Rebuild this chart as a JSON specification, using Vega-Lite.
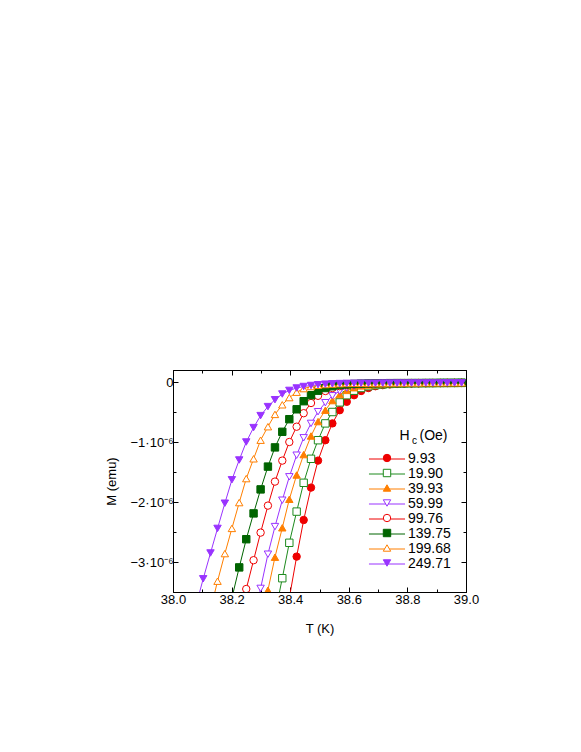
{
  "$schema": "https://vega.github.io/schema/vega-lite/v6.json",
  "width": 293,
  "height": 222,
  "autosize": {"type": "none"},
  "padding": {"left": 173, "top": 370, "right": 115, "bottom": 160},
  "background": "white",
  "config": {
    "font": "Liberation Sans",
    "view": {"stroke": "black", "strokeWidth": 1},
    "axis": {
      "grid": false,
      "domainColor": "black",
      "tickColor": "black",
      "labelColor": "black",
      "titleColor": "black",
      "labelFontSize": 13,
      "titleFontSize": 13,
      "titleFontWeight": "normal",
      "labelFlush": false,
      "labelOverlap": false,
      "tickWidth": 1,
      "domainWidth": 1
    },
    "legend": {
      "labelFont": "Liberation Sans",
      "titleFont": "Liberation Sans",
      "labelColor": "black",
      "titleColor": "black",
      "titleFontWeight": "normal"
    }
  },
  "data": {
    "values": [
      {"Hc":"9.93","T":38.397,"M":-3.60e-6},{"Hc":"9.93","T":38.422,"M":-2.91e-6},{"Hc":"9.93","T":38.446,"M":-2.30e-6},{"Hc":"9.93","T":38.471,"M":-1.76e-6},{"Hc":"9.93","T":38.495,"M":-1.31e-6},{"Hc":"9.93","T":38.520,"M":-0.97e-6},{"Hc":"9.93","T":38.544,"M":-0.69e-6},{"Hc":"9.93","T":38.569,"M":-0.47e-6},{"Hc":"9.93","T":38.593,"M":-0.33e-6},{"Hc":"9.93","T":38.618,"M":-0.22e-6},{"Hc":"9.93","T":38.642,"M":-0.15e-6},{"Hc":"9.93","T":38.667,"M":-0.10e-6},{"Hc":"9.93","T":38.691,"M":-0.07e-6},{"Hc":"9.93","T":38.716,"M":-0.052e-6},{"Hc":"9.93","T":38.740,"M":-0.040e-6},{"Hc":"9.93","T":38.765,"M":-0.032e-6},{"Hc":"9.93","T":38.789,"M":-0.027e-6},{"Hc":"9.93","T":38.814,"M":-0.024e-6},{"Hc":"9.93","T":38.838,"M":-0.022e-6},{"Hc":"9.93","T":38.863,"M":-0.020e-6},{"Hc":"9.93","T":38.887,"M":-0.019e-6},{"Hc":"9.93","T":38.912,"M":-0.018e-6},{"Hc":"9.93","T":38.936,"M":-0.017e-6},{"Hc":"9.93","T":38.961,"M":-0.016e-6},{"Hc":"9.93","T":38.985,"M":-0.015e-6},

      {"Hc":"19.90","T":38.348,"M":-3.87e-6},{"Hc":"19.90","T":38.373,"M":-3.27e-6},{"Hc":"19.90","T":38.397,"M":-2.68e-6},{"Hc":"19.90","T":38.422,"M":-2.16e-6},{"Hc":"19.90","T":38.446,"M":-1.68e-6},{"Hc":"19.90","T":38.471,"M":-1.28e-6},{"Hc":"19.90","T":38.495,"M":-0.97e-6},{"Hc":"19.90","T":38.520,"M":-0.69e-6},{"Hc":"19.90","T":38.544,"M":-0.50e-6},{"Hc":"19.90","T":38.569,"M":-0.34e-6},{"Hc":"19.90","T":38.593,"M":-0.22e-6},{"Hc":"19.90","T":38.618,"M":-0.145e-6},{"Hc":"19.90","T":38.642,"M":-0.10e-6},{"Hc":"19.90","T":38.667,"M":-0.07e-6},{"Hc":"19.90","T":38.691,"M":-0.052e-6},{"Hc":"19.90","T":38.716,"M":-0.040e-6},{"Hc":"19.90","T":38.740,"M":-0.032e-6},{"Hc":"19.90","T":38.765,"M":-0.027e-6},{"Hc":"19.90","T":38.789,"M":-0.024e-6},{"Hc":"19.90","T":38.814,"M":-0.022e-6},{"Hc":"19.90","T":38.838,"M":-0.020e-6},{"Hc":"19.90","T":38.863,"M":-0.019e-6},{"Hc":"19.90","T":38.887,"M":-0.018e-6},{"Hc":"19.90","T":38.912,"M":-0.017e-6},{"Hc":"19.90","T":38.936,"M":-0.016e-6},{"Hc":"19.90","T":38.961,"M":-0.015e-6},{"Hc":"19.90","T":38.985,"M":-0.014e-6},

      {"Hc":"39.93","T":38.299,"M":-4.05e-6},{"Hc":"39.93","T":38.324,"M":-3.47e-6},{"Hc":"39.93","T":38.348,"M":-2.92e-6},{"Hc":"39.93","T":38.373,"M":-2.43e-6},{"Hc":"39.93","T":38.397,"M":-1.955e-6},{"Hc":"39.93","T":38.422,"M":-1.55e-6},{"Hc":"39.93","T":38.446,"M":-1.21e-6},{"Hc":"39.93","T":38.471,"M":-0.90e-6},{"Hc":"39.93","T":38.495,"M":-0.66e-6},{"Hc":"39.93","T":38.520,"M":-0.47e-6},{"Hc":"39.93","T":38.544,"M":-0.31e-6},{"Hc":"39.93","T":38.569,"M":-0.21e-6},{"Hc":"39.93","T":38.593,"M":-0.14e-6},{"Hc":"39.93","T":38.618,"M":-0.095e-6},{"Hc":"39.93","T":38.642,"M":-0.065e-6},{"Hc":"39.93","T":38.667,"M":-0.050e-6},{"Hc":"39.93","T":38.691,"M":-0.040e-6},{"Hc":"39.93","T":38.716,"M":-0.032e-6},{"Hc":"39.93","T":38.740,"M":-0.027e-6},{"Hc":"39.93","T":38.765,"M":-0.024e-6},{"Hc":"39.93","T":38.789,"M":-0.022e-6},{"Hc":"39.93","T":38.814,"M":-0.020e-6},{"Hc":"39.93","T":38.838,"M":-0.019e-6},{"Hc":"39.93","T":38.863,"M":-0.018e-6},{"Hc":"39.93","T":38.887,"M":-0.017e-6},{"Hc":"39.93","T":38.912,"M":-0.016e-6},{"Hc":"39.93","T":38.936,"M":-0.015e-6},{"Hc":"39.93","T":38.961,"M":-0.015e-6},{"Hc":"39.93","T":38.985,"M":-0.014e-6},

      {"Hc":"59.99","T":38.275,"M":-4.00e-6},{"Hc":"59.99","T":38.299,"M":-3.44e-6},{"Hc":"59.99","T":38.324,"M":-2.87e-6},{"Hc":"59.99","T":38.348,"M":-2.41e-6},{"Hc":"59.99","T":38.373,"M":-1.97e-6},{"Hc":"59.99","T":38.397,"M":-1.58e-6},{"Hc":"59.99","T":38.422,"M":-1.22e-6},{"Hc":"59.99","T":38.446,"M":-0.93e-6},{"Hc":"59.99","T":38.471,"M":-0.69e-6},{"Hc":"59.99","T":38.495,"M":-0.495e-6},{"Hc":"59.99","T":38.520,"M":-0.345e-6},{"Hc":"59.99","T":38.544,"M":-0.23e-6},{"Hc":"59.99","T":38.569,"M":-0.15e-6},{"Hc":"59.99","T":38.593,"M":-0.10e-6},{"Hc":"59.99","T":38.618,"M":-0.07e-6},{"Hc":"59.99","T":38.642,"M":-0.052e-6},{"Hc":"59.99","T":38.667,"M":-0.040e-6},{"Hc":"59.99","T":38.691,"M":-0.032e-6},{"Hc":"59.99","T":38.716,"M":-0.027e-6},{"Hc":"59.99","T":38.740,"M":-0.024e-6},{"Hc":"59.99","T":38.765,"M":-0.022e-6},{"Hc":"59.99","T":38.789,"M":-0.020e-6},{"Hc":"59.99","T":38.814,"M":-0.019e-6},{"Hc":"59.99","T":38.838,"M":-0.018e-6},{"Hc":"59.99","T":38.863,"M":-0.017e-6},{"Hc":"59.99","T":38.887,"M":-0.017e-6},{"Hc":"59.99","T":38.912,"M":-0.016e-6},{"Hc":"59.99","T":38.936,"M":-0.015e-6},{"Hc":"59.99","T":38.961,"M":-0.015e-6},{"Hc":"59.99","T":38.985,"M":-0.014e-6},

      {"Hc":"99.76","T":38.226,"M":-3.95e-6},{"Hc":"99.76","T":38.250,"M":-3.45e-6},{"Hc":"99.76","T":38.275,"M":-2.97e-6},{"Hc":"99.76","T":38.299,"M":-2.51e-6},{"Hc":"99.76","T":38.324,"M":-2.06e-6},{"Hc":"99.76","T":38.348,"M":-1.66e-6},{"Hc":"99.76","T":38.373,"M":-1.31e-6},{"Hc":"99.76","T":38.397,"M":-1.00e-6},{"Hc":"99.76","T":38.422,"M":-0.745e-6},{"Hc":"99.76","T":38.446,"M":-0.52e-6},{"Hc":"99.76","T":38.471,"M":-0.35e-6},{"Hc":"99.76","T":38.495,"M":-0.23e-6},{"Hc":"99.76","T":38.520,"M":-0.15e-6},{"Hc":"99.76","T":38.544,"M":-0.10e-6},{"Hc":"99.76","T":38.569,"M":-0.07e-6},{"Hc":"99.76","T":38.593,"M":-0.052e-6},{"Hc":"99.76","T":38.618,"M":-0.040e-6},{"Hc":"99.76","T":38.642,"M":-0.032e-6},{"Hc":"99.76","T":38.667,"M":-0.027e-6},{"Hc":"99.76","T":38.691,"M":-0.024e-6},{"Hc":"99.76","T":38.716,"M":-0.022e-6},{"Hc":"99.76","T":38.740,"M":-0.020e-6},{"Hc":"99.76","T":38.765,"M":-0.019e-6},{"Hc":"99.76","T":38.789,"M":-0.018e-6},{"Hc":"99.76","T":38.814,"M":-0.018e-6},{"Hc":"99.76","T":38.838,"M":-0.017e-6},{"Hc":"99.76","T":38.863,"M":-0.017e-6},{"Hc":"99.76","T":38.887,"M":-0.016e-6},{"Hc":"99.76","T":38.912,"M":-0.016e-6},{"Hc":"99.76","T":38.936,"M":-0.015e-6},{"Hc":"99.76","T":38.961,"M":-0.015e-6},{"Hc":"99.76","T":38.985,"M":-0.014e-6},

      {"Hc":"139.75","T":38.201,"M":-3.60e-6},{"Hc":"139.75","T":38.226,"M":-3.09e-6},{"Hc":"139.75","T":38.250,"M":-2.62e-6},{"Hc":"139.75","T":38.275,"M":-2.19e-6},{"Hc":"139.75","T":38.299,"M":-1.79e-6},{"Hc":"139.75","T":38.324,"M":-1.41e-6},{"Hc":"139.75","T":38.348,"M":-1.09e-6},{"Hc":"139.75","T":38.373,"M":-0.83e-6},{"Hc":"139.75","T":38.397,"M":-0.62e-6},{"Hc":"139.75","T":38.422,"M":-0.455e-6},{"Hc":"139.75","T":38.446,"M":-0.32e-6},{"Hc":"139.75","T":38.471,"M":-0.22e-6},{"Hc":"139.75","T":38.495,"M":-0.145e-6},{"Hc":"139.75","T":38.520,"M":-0.10e-6},{"Hc":"139.75","T":38.544,"M":-0.07e-6},{"Hc":"139.75","T":38.569,"M":-0.052e-6},{"Hc":"139.75","T":38.593,"M":-0.040e-6},{"Hc":"139.75","T":38.618,"M":-0.032e-6},{"Hc":"139.75","T":38.642,"M":-0.027e-6},{"Hc":"139.75","T":38.667,"M":-0.024e-6},{"Hc":"139.75","T":38.691,"M":-0.022e-6},{"Hc":"139.75","T":38.716,"M":-0.020e-6},{"Hc":"139.75","T":38.740,"M":-0.019e-6},{"Hc":"139.75","T":38.765,"M":-0.018e-6},{"Hc":"139.75","T":38.789,"M":-0.018e-6},{"Hc":"139.75","T":38.814,"M":-0.017e-6},{"Hc":"139.75","T":38.838,"M":-0.017e-6},{"Hc":"139.75","T":38.863,"M":-0.016e-6},{"Hc":"139.75","T":38.887,"M":-0.016e-6},{"Hc":"139.75","T":38.912,"M":-0.015e-6},{"Hc":"139.75","T":38.936,"M":-0.015e-6},{"Hc":"139.75","T":38.961,"M":-0.015e-6},{"Hc":"139.75","T":38.985,"M":-0.014e-6},

      {"Hc":"199.68","T":38.128,"M":-3.80e-6},{"Hc":"199.68","T":38.152,"M":-3.32e-6},{"Hc":"199.68","T":38.177,"M":-2.86e-6},{"Hc":"199.68","T":38.201,"M":-2.44e-6},{"Hc":"199.68","T":38.226,"M":-2.01e-6},{"Hc":"199.68","T":38.250,"M":-1.61e-6},{"Hc":"199.68","T":38.275,"M":-1.28e-6},{"Hc":"199.68","T":38.299,"M":-0.97e-6},{"Hc":"199.68","T":38.324,"M":-0.745e-6},{"Hc":"199.68","T":38.348,"M":-0.54e-6},{"Hc":"199.68","T":38.373,"M":-0.38e-6},{"Hc":"199.68","T":38.397,"M":-0.26e-6},{"Hc":"199.68","T":38.422,"M":-0.17e-6},{"Hc":"199.68","T":38.446,"M":-0.11e-6},{"Hc":"199.68","T":38.471,"M":-0.075e-6},{"Hc":"199.68","T":38.495,"M":-0.055e-6},{"Hc":"199.68","T":38.520,"M":-0.042e-6},{"Hc":"199.68","T":38.544,"M":-0.034e-6},{"Hc":"199.68","T":38.569,"M":-0.028e-6},{"Hc":"199.68","T":38.593,"M":-0.024e-6},{"Hc":"199.68","T":38.618,"M":-0.022e-6},{"Hc":"199.68","T":38.642,"M":-0.020e-6},{"Hc":"199.68","T":38.667,"M":-0.020e-6},{"Hc":"199.68","T":38.691,"M":-0.019e-6},{"Hc":"199.68","T":38.716,"M":-0.018e-6},{"Hc":"199.68","T":38.740,"M":-0.018e-6},{"Hc":"199.68","T":38.765,"M":-0.017e-6},{"Hc":"199.68","T":38.789,"M":-0.017e-6},{"Hc":"199.68","T":38.814,"M":-0.016e-6},{"Hc":"199.68","T":38.838,"M":-0.016e-6},{"Hc":"199.68","T":38.863,"M":-0.015e-6},{"Hc":"199.68","T":38.887,"M":-0.015e-6},{"Hc":"199.68","T":38.912,"M":-0.015e-6},{"Hc":"199.68","T":38.936,"M":-0.014e-6},{"Hc":"199.68","T":38.961,"M":-0.014e-6},{"Hc":"199.68","T":38.985,"M":-0.014e-6},

      {"Hc":"249.71","T":38.079,"M":-3.72e-6},{"Hc":"249.71","T":38.103,"M":-3.28e-6},{"Hc":"249.71","T":38.128,"M":-2.85e-6},{"Hc":"249.71","T":38.152,"M":-2.44e-6},{"Hc":"249.71","T":38.177,"M":-2.02e-6},{"Hc":"249.71","T":38.201,"M":-1.63e-6},{"Hc":"249.71","T":38.226,"M":-1.30e-6},{"Hc":"249.71","T":38.250,"M":-1.00e-6},{"Hc":"249.71","T":38.275,"M":-0.76e-6},{"Hc":"249.71","T":38.299,"M":-0.56e-6},{"Hc":"249.71","T":38.324,"M":-0.41e-6},{"Hc":"249.71","T":38.348,"M":-0.295e-6},{"Hc":"249.71","T":38.373,"M":-0.20e-6},{"Hc":"249.71","T":38.397,"M":-0.14e-6},{"Hc":"249.71","T":38.422,"M":-0.10e-6},{"Hc":"249.71","T":38.446,"M":-0.075e-6},{"Hc":"249.71","T":38.471,"M":-0.058e-6},{"Hc":"249.71","T":38.495,"M":-0.045e-6},{"Hc":"249.71","T":38.520,"M":-0.036e-6},{"Hc":"249.71","T":38.544,"M":-0.030e-6},{"Hc":"249.71","T":38.569,"M":-0.026e-6},{"Hc":"249.71","T":38.593,"M":-0.023e-6},{"Hc":"249.71","T":38.618,"M":-0.021e-6},{"Hc":"249.71","T":38.642,"M":-0.020e-6},{"Hc":"249.71","T":38.667,"M":-0.020e-6},{"Hc":"249.71","T":38.691,"M":-0.019e-6},{"Hc":"249.71","T":38.716,"M":-0.018e-6},{"Hc":"249.71","T":38.740,"M":-0.018e-6},{"Hc":"249.71","T":38.765,"M":-0.017e-6},{"Hc":"249.71","T":38.789,"M":-0.017e-6},{"Hc":"249.71","T":38.814,"M":-0.016e-6},{"Hc":"249.71","T":38.838,"M":-0.016e-6},{"Hc":"249.71","T":38.863,"M":-0.015e-6},{"Hc":"249.71","T":38.887,"M":-0.015e-6},{"Hc":"249.71","T":38.912,"M":-0.015e-6},{"Hc":"249.71","T":38.936,"M":-0.014e-6},{"Hc":"249.71","T":38.961,"M":-0.014e-6},{"Hc":"249.71","T":38.985,"M":-0.014e-6}
    ]
  },
  "layer": [
    {
      "mark": {"type": "line", "strokeWidth": 1, "clip": true},
      "encoding": {
        "x": {
          "field": "T", "type": "quantitative",
          "scale": {"domain": [38, 39], "nice": false, "zero": false},
          "axis": {
            "orient": "bottom",
            "title": "T (K)",
            "titlePadding": 14,
            "values": [38, 38.1, 38.2, 38.3, 38.4, 38.5, 38.6, 38.7, 38.8, 38.9, 39],
            "labelExpr": "round(datum.value*10) % 2 == 0 ? format(datum.value, '.1f') : ''",
            "tickSize": {"condition": {"test": "round(datum.value*10) % 2 == 0", "value": -5}, "value": -3},
            "labelPadding": 6
          }
        },
        "y": {
          "field": "M", "type": "quantitative",
          "scale": {"domain": [-3.5e-6, 0.2e-6], "nice": false, "zero": false},
          "axis": {
            "orient": "left",
            "title": "M (emu)",
            "titlePadding": 12,
            "values": [0, -0.5e-6, -1e-6, -1.5e-6, -2e-6, -2.5e-6, -3e-6],
            "labelExpr": "abs(datum.value) < 1e-12 ? '0' : (abs(round(datum.value*2e6)) % 2 == 1 ? '' : '\u2212' + format(-datum.value*1e6, 'd') + '\u00b710\u207b\u2076')",
            "tickSize": {"condition": {"test": "abs(round(datum.value*2e6)) % 2 == 0", "value": -5}, "value": -3},
            "labelPadding": 5
          }
        },
        "color": {
          "field": "Hc", "type": "nominal",
          "sort": {"field": "T", "op": "min", "order": "descending"},
          "scale": {"range": ["#ee0000", "#1d8a1d", "#ff7f00", "#9933ff", "#ee0000", "#006400", "#ff7f00", "#9933ff"]},
          "legend": {
            "orient": "none", "legendX": 207, "legendY": 59, "padding": 0,
            "title": "H\u2002\u2009(Oe)\u2005\u200b", "titleFontSize": 14, "titleAnchor": "end", "titlePadding": 9,
            "symbolType": "M-5,0H5", "symbolSize": 52, "symbolStrokeWidth": 1,
            "labelFontSize": 14, "labelOffset": 14, "rowPadding": 1
          }
        }
      }
    },
    {
      "mark": {"type": "point", "size": 55, "strokeWidth": 1, "opacity": 1, "clip": true},
      "encoding": {
        "x": {
          "field": "T", "type": "quantitative",
          "scale": {"domain": [38, 39], "nice": false, "zero": false},
          "axis": {
            "orient": "top", "title": null, "labels": false,
            "values": [38, 38.1, 38.2, 38.3, 38.4, 38.5, 38.6, 38.7, 38.8, 38.9, 39],
            "tickSize": {"condition": {"test": "round(datum.value*10) % 2 == 0", "value": -5}, "value": -3}
          }
        },
        "y": {
          "field": "M", "type": "quantitative",
          "scale": {"domain": [-3.5e-6, 0.2e-6], "nice": false, "zero": false},
          "axis": {
            "orient": "right", "title": null, "labels": false,
            "values": [0, -0.5e-6, -1e-6, -1.5e-6, -2e-6, -2.5e-6, -3e-6],
            "tickSize": {"condition": {"test": "abs(round(datum.value*2e6)) % 2 == 0", "value": -5}, "value": -3}
          }
        },
        "stroke": {
          "field": "Hc", "type": "nominal",
          "scale": {
            "domain": ["9.93", "19.90", "39.93", "59.99", "99.76", "139.75", "199.68", "249.71"],
            "range": ["#ee0000", "#1d8a1d", "#ff7f00", "#9933ff", "#ee0000", "#006400", "#ff7f00", "#9933ff"]
          },
          "legend": {
            "orient": "none", "legendX": 207, "legendY": 66, "padding": 0,
            "title": "\u200b\u2003\u2003\u2003\u2009c", "titleFontSize": 10, "titleAnchor": "start", "titlePadding": 5,
            "symbolSize": 55, "symbolStrokeWidth": 1,
            "labelFontSize": 14, "labelOpacity": 0, "labelExpr": "''", "rowPadding": 1
          }
        },
        "fill": {
          "field": "Hc", "type": "nominal",
          "scale": {
            "domain": ["9.93", "19.90", "39.93", "59.99", "99.76", "139.75", "199.68", "249.71"],
            "range": ["#ee0000", "white", "#ff7f00", "white", "white", "#006400", "white", "#9933ff"]
          },
          "legend": {
            "orient": "none", "legendX": 207, "legendY": 66, "padding": 0,
            "title": "\u200b\u2003\u2003\u2003\u2009c", "titleFontSize": 10, "titleAnchor": "start", "titlePadding": 5,
            "symbolSize": 55, "symbolStrokeWidth": 1,
            "labelFontSize": 14, "labelOpacity": 0, "labelExpr": "''", "rowPadding": 1
          }
        },
        "shape": {
          "field": "Hc", "type": "nominal",
          "scale": {
            "domain": ["9.93", "19.90", "39.93", "59.99", "99.76", "139.75", "199.68", "249.71"],
            "range": ["circle", "square", "triangle-up", "triangle-down", "circle", "square", "triangle-up", "triangle-down"]
          },
          "legend": {
            "orient": "none", "legendX": 207, "legendY": 66, "padding": 0,
            "title": "\u200b\u2003\u2003\u2003\u2009c", "titleFontSize": 10, "titleAnchor": "start", "titlePadding": 5,
            "symbolSize": 55, "symbolStrokeWidth": 1,
            "labelFontSize": 14, "labelOpacity": 0, "labelExpr": "''", "rowPadding": 1
          }
        }
      }
    }
  ],
  "resolve": {"axis": {"x": "independent", "y": "independent"}}
}
